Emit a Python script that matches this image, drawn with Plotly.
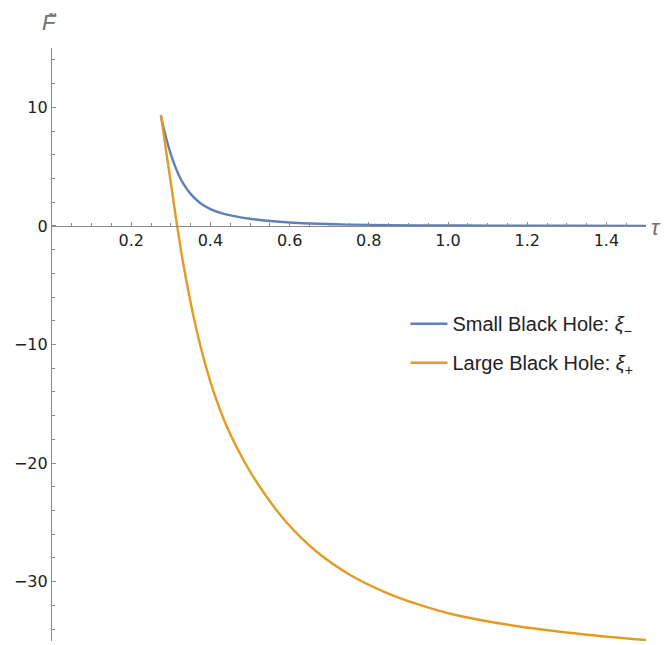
import plotly.graph_objects as go

# Data
tau_small = [0.275, 0.28, 0.29, 0.3, 0.31, 0.32, 0.332, 0.35, 0.375, 0.4, 0.43, 0.47, 0.5, 0.55, 0.6, 0.67, 0.75, 0.85, 0.95, 1.1, 1.3, 1.5]
F_small = [9.3, 8.55, 7.2, 6.05, 5.1, 4.3, 3.55, 2.7, 1.91, 1.42, 1.05, 0.76, 0.6, 0.41, 0.29, 0.18, 0.11, 0.065, 0.04, 0.022, 0.011, 0.006]

tau_large = [0.275, 0.285, 0.295, 0.305, 0.316, 0.3325, 0.358, 0.383, 0.408, 0.442, 0.476, 0.51, 0.586, 0.67, 0.754, 0.839, 0.923, 1.008, 1.176, 1.345, 1.5]
F_large = [9.35, 7.05, 4.78, 2.5, 0.0, -3.38, -7.72, -11.17, -13.97, -16.96, -19.28, -21.25, -24.75, -27.52, -29.45, -30.85, -31.9, -32.72, -33.76, -34.45, -34.92]

x_ticks = [0.2, 0.4, 0.6, 0.8, 1.0, 1.2, 1.4]
y_ticks = [-30, -20, -10, 0, 10]

series_names = ["Small Black Hole: <i>ξ</i><sub>−</sub>", "Large Black Hole: <i>ξ</i><sub>+</sub>"]
colors = ["#5E81B5", "#E19C24"]

fig = go.Figure()
fig.add_trace(go.Scatter(x=tau_small, y=F_small, mode="lines", name=series_names[0],
                         line=dict(color=colors[0], width=2.4, shape="spline", smoothing=0.9),
                         legendgroup="a"))
fig.add_trace(go.Scatter(x=tau_large, y=F_large, mode="lines", name=series_names[1],
                         line=dict(color=colors[1], width=2.4, shape="spline", smoothing=0.9),
                         legendgroup="b"))

axis_col = "#8a8a8a"
tick_font = dict(family="DejaVu Sans, sans-serif", size=16, color="#222")
label_font = dict(family="Liberation Sans, Arial, sans-serif", size=22, color="#707070")
fig.update_layout(
    width=662, height=637,
    margin=dict(l=44, r=24, t=40, b=4),
    paper_bgcolor="white", plot_bgcolor="white",
    font=dict(family="DejaVu Sans, sans-serif", size=16, color="#222"),
    xaxis=dict(range=[0, 1.5], tickvals=x_ticks, tickformat=".1f",
               showgrid=False, zeroline=False, showline=True, linecolor=axis_col, linewidth=1.2,
               ticks="inside", ticklen=4, tickcolor=axis_col, tickwidth=1,
               minor=dict(dtick=0.05, tick0=0, ticks="inside", ticklen=2.5, tickcolor=axis_col),
               anchor="free", position=0.7, tickfont=tick_font),
    yaxis=dict(range=[-35, 15], tickvals=y_ticks,
               showgrid=False, zeroline=False, showline=True, linecolor=axis_col, linewidth=1.2,
               ticks="inside", ticklen=4, tickcolor=axis_col, tickwidth=1,
               minor=dict(dtick=2, tick0=0, ticks="inside", ticklen=2.5, tickcolor=axis_col),
               tickfont=tick_font),
    legend=dict(x=0.595, y=0.568, xanchor="left", yanchor="top", itemwidth=37,
                font=dict(family="Liberation Sans, Arial, sans-serif", size=20, color="#222"),
                bgcolor="rgba(0,0,0,0)", tracegroupgap=10, traceorder="grouped"),
    showlegend=True,
    annotations=[
        dict(text="<i>F</i>", x=-0.0034, y=1.0438, xref="paper", yref="paper", showarrow=False,
             xanchor="center", yanchor="middle", font=label_font),
        dict(text="˜", x=0.0, y=1.0675, xref="paper", yref="paper", showarrow=False,
             xanchor="center", yanchor="top",
             font=dict(family="DejaVu Sans, sans-serif", size=22, color="#707070")),
        dict(text="<i>τ</i>", x=1.017, y=0.697, xref="paper", yref="paper", showarrow=False,
             xanchor="center", yanchor="middle", font=label_font),
    ],
)

fig.write_html("out.html")
